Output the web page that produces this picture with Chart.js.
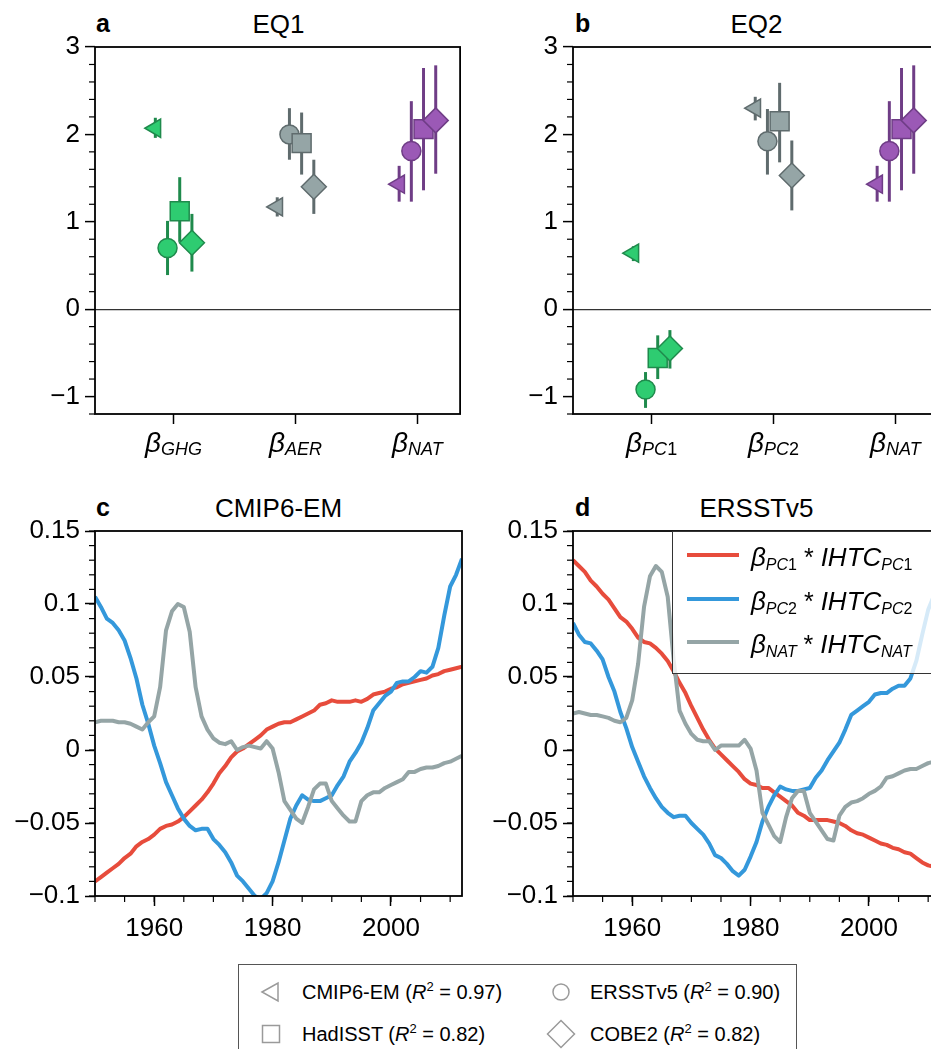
<!DOCTYPE html>
<html lang="en">
<head>
<meta charset="utf-8">
<title>EQ1 / EQ2</title>
<script src="https://cdn.jsdelivr.net/npm/chart.js@4.4.1/dist/chart.umd.min.js"></script>
<style>
    html, body { margin: 0; padding: 0; background: #fff; }
    body { position: relative; width: 931px; height: 1049px; overflow: hidden; font-family: "Liberation Sans", Arial, Helvetica, sans-serif; color: #000; }
    .panel { position: absolute; width: 475px; height: 480px; }
    .letra { position: absolute; font-size: 25px; line-height: 25px; font-weight: bold; }
    .titulo { position: absolute; font-size: 26px; line-height: 26px; white-space: nowrap; transform: translateX(-50%); }
    .beta { position: absolute; font-size: 28px; line-height: 28px; font-style: italic; white-space: nowrap; transform: translateX(-50%); }
    .beta sub { font-size: 18px; vertical-align: baseline; position: relative; top: 3px; }
    .recto { font-style: normal; }
    #leyendaD { position: absolute; left: 672px; top: 531px; width: 300px; height: 143px; box-sizing: border-box; border: 1.5px solid #333; background: rgba(255, 255, 255, 0.8); }
    .muestra { position: absolute; left: 14px; width: 52px; height: 4px; }
    .textoD { position: absolute; left: 78px; font-size: 25px; line-height: 26px; white-space: nowrap; }
    .textoD i { font-size: 26px; }
    .textoD sub { font-size: 16px; font-style: italic; vertical-align: baseline; position: relative; top: 4px; }
    #leyenda { position: absolute; left: 238px; top: 964px; width: 559px; height: 120px; box-sizing: border-box; border: 1.5px solid #555; background: #fff; }
    .simbolo { position: absolute; width: 30px; height: 30px; }
    .textoLeyenda { position: absolute; font-size: 20px; line-height: 20px; white-space: nowrap; }
    .textoLeyenda sup { font-size: 13px; vertical-align: baseline; position: relative; top: -8px; }
</style>
</head>
<body>
<div class="letra" style="left:96px; top:11px;">a</div>
<div class="titulo" style="left:278.5px; top:11px;">EQ1</div>
<div class="letra" style="left:575px; top:11px;">b</div>
<div class="titulo" style="left:756.5px; top:11px;">EQ2</div>
<div class="letra" style="left:96px; top:495px;">c</div>
<div class="titulo" style="left:278.5px; top:495px;">CMIP6-EM</div>
<div class="letra" style="left:575px; top:495px;">d</div>
<div class="titulo" style="left:756.5px; top:495px;">ERSSTv5</div>

<div class="panel" id="panelA" style="left:0px; top:0px;"><canvas id="graficoA"></canvas></div>
<div class="panel" id="panelB" style="left:478px; top:0px;"><canvas id="graficoB"></canvas></div>
<div class="panel" id="panelC" style="left:0px; top:484px;"><canvas id="graficoC"></canvas></div>
<div class="panel" id="panelD" style="left:478px; top:484px;"><canvas id="graficoD"></canvas></div>

<div id="leyendaD"></div>
<div id="leyenda"></div>

<script>
//DATOS
const gruposEq1 = ["GHG", "AER", "NAT"];
const gruposEq2 = ["PC1", "PC2", "NAT"];
const productos = ["CMIP6-EM", "ERSSTv5", "HadISST", "COBE2"];
const r2Productos = ["0.97", "0.90", "0.82", "0.82"];

// filas: CMIP6-EM, ERSSTv5, HadISST, COBE2 / columnas: grupos
const eq1Medio = [[2.07, 1.17, 1.43], [0.70, 2.00, 1.81], [1.12, 1.90, 2.06], [0.76, 1.40, 2.16]];
const eq1Bajo = [[1.96, 1.06, 1.23], [0.39, 1.71, 1.23], [0.77, 1.54, 1.36], [0.43, 1.09, 1.55]];
const eq1Alto = [[2.19, 1.28, 1.64], [1.01, 2.30, 2.38], [1.51, 2.25, 2.76], [1.09, 1.71, 2.79]];

const eq2Medio = [[0.64, 2.30, 1.43], [-0.92, 1.92, 1.81], [-0.56, 2.15, 2.06], [-0.45, 1.53, 2.16]];
const eq2Bajo = [[0.55, 2.16, 1.23], [-1.13, 1.54, 1.23], [-0.80, 1.68, 1.36], [-0.68, 1.13, 1.55]];
const eq2Alto = [[0.72, 2.43, 1.64], [-0.72, 2.29, 2.38], [-0.30, 2.59, 2.76], [-0.24, 1.93, 2.79]];

const anios = [1950, 1951, 1952, 1953, 1954, 1955, 1956, 1957, 1958, 1959,
    1960, 1961, 1962, 1963, 1964, 1965, 1966, 1967, 1968, 1969,
    1970, 1971, 1972, 1973, 1974, 1975, 1976, 1977, 1978, 1979,
    1980, 1981, 1982, 1983, 1984, 1985, 1986, 1987, 1988, 1989,
    1990, 1991, 1992, 1993, 1994, 1995, 1996, 1997, 1998, 1999,
    2000, 2001, 2002, 2003, 2004, 2005, 2006, 2007, 2008, 2009,
    2010, 2011, 2012];

const cmipPc1 = [-0.090, -0.087, -0.084, -0.081, -0.078, -0.074, -0.071, -0.066, -0.063, -0.061,
    -0.058, -0.054, -0.052, -0.051, -0.049, -0.046, -0.042, -0.038, -0.034, -0.029,
    -0.023, -0.016, -0.011, -0.005, -0.001, 0.001, 0.004, 0.007, 0.010, 0.014,
    0.016, 0.018, 0.019, 0.019, 0.021, 0.023, 0.025, 0.027, 0.031, 0.032,
    0.034, 0.033, 0.033, 0.033, 0.034, 0.033, 0.035, 0.038, 0.039, 0.040,
    0.042, 0.043, 0.045, 0.046, 0.047, 0.048, 0.049, 0.051, 0.052, 0.054,
    0.055, 0.056, 0.057];
const cmipPc2 = [0.105, 0.098, 0.090, 0.087, 0.082, 0.075, 0.063, 0.049, 0.031, 0.018,
    0.003, -0.009, -0.022, -0.031, -0.040, -0.047, -0.052, -0.055, -0.054, -0.054,
    -0.061, -0.065, -0.070, -0.077, -0.086, -0.090, -0.095, -0.100, -0.102, -0.098,
    -0.090, -0.077, -0.062, -0.047, -0.038, -0.031, -0.034, -0.035, -0.035, -0.033,
    -0.031, -0.024, -0.018, -0.008, -0.002, 0.005, 0.015, 0.027, 0.032, 0.037,
    0.040, 0.046, 0.047, 0.047, 0.050, 0.054, 0.053, 0.057, 0.070, 0.092,
    0.112, 0.120, 0.131];
const cmipNat = [0.019, 0.020, 0.020, 0.020, 0.019, 0.019, 0.018, 0.016, 0.014, 0.019,
    0.023, 0.043, 0.082, 0.095, 0.100, 0.098, 0.081, 0.043, 0.023, 0.014,
    0.008, 0.005, 0.004, 0.006, 0.000, 0.002, 0.003, 0.002, 0.001, 0.006,
    0.001, -0.015, -0.035, -0.041, -0.047, -0.050, -0.039, -0.027, -0.023, -0.023,
    -0.035, -0.040, -0.045, -0.049, -0.049, -0.035, -0.031, -0.029, -0.029, -0.026,
    -0.024, -0.022, -0.020, -0.015, -0.015, -0.013, -0.012, -0.012, -0.011, -0.009,
    -0.008, -0.006, -0.004];

const ersstPc1 = [0.130, 0.126, 0.122, 0.116, 0.112, 0.107, 0.103, 0.097, 0.091, 0.088,
    0.083, 0.077, 0.074, 0.073, 0.070, 0.066, 0.061, 0.054, 0.046, 0.039,
    0.030, 0.022, 0.014, 0.007, 0.001, -0.003, -0.007, -0.011, -0.015, -0.020,
    -0.023, -0.024, -0.026, -0.026, -0.029, -0.032, -0.035, -0.038, -0.043, -0.045,
    -0.048, -0.048, -0.048, -0.048, -0.049, -0.050, -0.052, -0.055, -0.057, -0.058,
    -0.060, -0.062, -0.064, -0.065, -0.067, -0.068, -0.070, -0.071, -0.074, -0.077,
    -0.079, -0.080, -0.081];
const ersstPc2 = [0.087, 0.079, 0.074, 0.073, 0.068, 0.062, 0.050, 0.040, 0.026, 0.015,
    0.002, -0.008, -0.018, -0.026, -0.033, -0.039, -0.043, -0.046, -0.045, -0.045,
    -0.050, -0.054, -0.058, -0.064, -0.072, -0.074, -0.078, -0.083, -0.086, -0.082,
    -0.073, -0.063, -0.049, -0.039, -0.031, -0.025, -0.027, -0.028, -0.028, -0.027,
    -0.026, -0.019, -0.014, -0.007, -0.001, 0.005, 0.014, 0.024, 0.027, 0.030,
    0.033, 0.038, 0.039, 0.039, 0.042, 0.044, 0.044, 0.049, 0.061, 0.079,
    0.096, 0.106, 0.115];
const ersstNat = [0.025, 0.026, 0.025, 0.024, 0.024, 0.023, 0.022, 0.020, 0.019, 0.022,
    0.034, 0.059, 0.098, 0.119, 0.126, 0.122, 0.105, 0.062, 0.027, 0.018,
    0.011, 0.007, 0.006, 0.006, 0.000, 0.003, 0.003, 0.003, 0.003, 0.007,
    0.001, -0.014, -0.043, -0.051, -0.059, -0.063, -0.046, -0.033, -0.028, -0.028,
    -0.043, -0.049, -0.055, -0.061, -0.062, -0.045, -0.039, -0.036, -0.035, -0.033,
    -0.030, -0.028, -0.025, -0.019, -0.018, -0.016, -0.014, -0.013, -0.013, -0.011,
    -0.009, -0.008, -0.007];

const ticksBeta = [-1, 0, 1, 2, 3];
const ticksIhtc = [-0.1, -0.05, 0, 0.05, 0.1, 0.15];
const ticksAnios = [1960, 1980, 2000];
const seriesIhtc = ["PC1", "PC2", "NAT"];

//ESTILOS
const fuente = '"Liberation Sans", Arial, Helvetica, sans-serif';
Chart.defaults.font.family = fuente;
Chart.defaults.color = "#000";

const rellenoGrupo = ["#2ecc71", "#95a5a6", "#9b59b6"];
const bordeGrupo = ["#1f8a4c", "#5f6b6d", "#6f3d86"];
const coloresIhtc = ["#e74c3c", "#3498db", "#95a5a6"];
const formaProducto = [
    { estilo: "triangle", giro: -90, radio: 10.5 },
    { estilo: "circle", giro: 0, radio: 9.5 },
    { estilo: "rect", giro: 0, radio: 13.4 },
    { estilo: "rectRot", giro: 0, radio: 12.5 }
];
const desplazamiento = [-0.15, -0.05, 0.05, 0.15];

function rango(desde, hasta, paso) {
    let valores = [];
    for (let v = desde; v <= hasta + paso / 2; v += paso) {
        valores.push(Math.round(v * 1000) / 1000);
    }
    return valores;
}

function formatear(v) {
    return String(Math.round(v * 1000) / 1000).replace("-", "\u2212");
}

function marcarDigitos(texto) {
    return texto.replace(/(\d)/g, '<span class="recto">$1</span>');
}

// marco completo y marcas menores sobre las escalas
const pluginMarco = {
    id: "marco",
    afterDraw(chart, args, opciones) {
        const ctx = chart.ctx;
        const area = chart.chartArea;
        ctx.save();
        ctx.strokeStyle = "#000";
        ctx.lineWidth = 1.2;
        for (let v of opciones.menoresY || []) {
            let py = chart.scales.y.getPixelForValue(v);
            ctx.beginPath();
            ctx.moveTo(area.left, py);
            ctx.lineTo(area.left - 6, py);
            ctx.stroke();
        }
        for (let v of opciones.menoresX || []) {
            let px = chart.scales.x.getPixelForValue(v);
            ctx.beginPath();
            ctx.moveTo(px, area.bottom);
            ctx.lineTo(px, area.bottom + 6);
            ctx.stroke();
        }
        ctx.lineWidth = 1.8;
        ctx.strokeRect(area.left, area.top, area.right - area.left, area.bottom - area.top);
        ctx.restore();
    }
};

function opcionesBase(arriba, altoEjeX) {
    return {
        responsive: true,
        maintainAspectRatio: false,
        animation: false,
        events: [],
        layout: { padding: { top: arriba, right: 13, left: 0, bottom: 0 } },
        plugins: { legend: { display: false }, tooltip: { enabled: false } },
        scales: {
            x: {
                type: "linear",
                afterFit: (escala) => { escala.height = altoEjeX; },
                border: { display: false },
                grid: { drawOnChartArea: false, tickLength: 10, tickColor: "#000", tickWidth: 1.5 },
                ticks: { autoSkip: false, maxRotation: 0, font: { size: 26 }, padding: 7 }
            },
            y: {
                type: "linear",
                afterFit: (escala) => { escala.width = 95; },
                border: { display: false },
                grid: { drawOnChartArea: false, tickLength: 10, tickColor: "#000", tickWidth: 1.5 },
                ticks: { autoSkip: false, font: { size: 26 }, padding: 5, callback: (v) => formatear(v) }
            }
        }
    };
}

//GRAFICOS BETA
function crearGraficoBeta(idCanvas, idPanel, grupos, medio, bajo, alto) {
    let datasets = [];
    let orden = 100;
    for (let p = 0; p < productos.length; p++) {
        for (let g = 0; g < grupos.length; g++) {
            let x = g + 1 + desplazamiento[p];
            datasets.push({
                data: [{ x: x, y: bajo[p][g] }, { x: x, y: alto[p][g] }],
                showLine: true,
                borderColor: bordeGrupo[g],
                borderWidth: 3,
                pointRadius: 0,
                order: orden--
            });
        }
        datasets.push({
            data: medio[p].map((v, g) => ({ x: g + 1 + desplazamiento[p], y: v })),
            backgroundColor: rellenoGrupo,
            pointBackgroundColor: rellenoGrupo,
            borderColor: bordeGrupo,
            pointBorderColor: bordeGrupo,
            pointBorderWidth: 1.5,
            pointStyle: formaProducto[p].estilo,
            pointRotation: formaProducto[p].giro,
            pointRadius: formaProducto[p].radio,
            order: orden--
        });
    }

    let opciones = opcionesBase(47, 66);
    opciones.plugins.marco = { menoresY: rango(-1.2, 3, 0.2).filter((v) => !Number.isInteger(v)) };
    opciones.scales.x.min = 0.355;
    opciones.scales.x.max = 3.35;
    opciones.scales.x.afterBuildTicks = (escala) => { escala.ticks = [1, 2, 3].map((v) => ({ value: v })); };
    opciones.scales.x.ticks.callback = () => "";
    opciones.scales.y.min = -1.2;
    opciones.scales.y.max = 3;
    opciones.scales.y.afterBuildTicks = (escala) => { escala.ticks = ticksBeta.map((v) => ({ value: v })); };
    opciones.scales.y.grid.drawOnChartArea = true;
    opciones.scales.y.grid.lineWidth = 1.2;
    opciones.scales.y.grid.color = (c) => (c.tick && c.tick.value === 0) ? "#333" : "rgba(0,0,0,0)";

    const grafico = new Chart(document.getElementById(idCanvas), {
        type: "scatter",
        data: { datasets: datasets },
        options: opciones,
        plugins: [pluginMarco]
    });

    const panel = document.getElementById(idPanel);
    grupos.forEach((g, i) => {
        let etiqueta = document.createElement("div");
        etiqueta.className = "beta";
        etiqueta.innerHTML = `β<sub>${marcarDigitos(g)}</sub>`;
        etiqueta.style.left = (panel.offsetLeft + grafico.scales.x.getPixelForValue(i + 1)) + "px";
        etiqueta.style.top = "429px";
        document.body.append(etiqueta);
    });
    return grafico;
}

//GRAFICOS IHTC
function crearGraficoIhtc(idCanvas, pc1, pc2, nat) {
    const series = [pc1, pc2, nat];
    const datasets = series.map((valores, i) => ({
        data: anios.map((a, k) => ({ x: a, y: valores[k] })),
        borderColor: coloresIhtc[i],
        borderWidth: 4,
        borderJoinStyle: "round",
        pointRadius: 0,
        tension: 0,
        clip: 0,
        order: series.length - i
    }));

    let opciones = opcionesBase(47, 68);
    opciones.plugins.marco = { menoresY: rango(-0.1, 0.15, 0.01), menoresX: rango(1950, 2010, 5) };
    opciones.scales.x.min = 1950;
    opciones.scales.x.max = 2012;
    opciones.scales.x.afterBuildTicks = (escala) => { escala.ticks = ticksAnios.map((v) => ({ value: v })); };
    opciones.scales.x.ticks.callback = (v) => String(v);
    opciones.scales.y.min = -0.1;
    opciones.scales.y.max = 0.15;
    opciones.scales.y.afterBuildTicks = (escala) => { escala.ticks = ticksIhtc.map((v) => ({ value: v })); };

    return new Chart(document.getElementById(idCanvas), {
        type: "line",
        data: { datasets: datasets },
        options: opciones,
        plugins: [pluginMarco]
    });
}

//LEYENDAS
function crearLeyendaD() {
    const caja = document.getElementById("leyendaD");
    seriesIhtc.forEach((s, i) => {
        let centro = 23 + i * 43.5;
        let muestra = document.createElement("div");
        muestra.className = "muestra";
        muestra.style.background = coloresIhtc[i];
        muestra.style.top = (centro - 2) + "px";
        caja.append(muestra);

        let texto = document.createElement("div");
        texto.className = "textoD";
        texto.style.top = (centro - 11) + "px";
        texto.innerHTML = `<i>β</i><sub>${marcarDigitos(s)}</sub> * <i>IHTC</i><sub>${marcarDigitos(s)}</sub>`;
        caja.append(texto);
    });
}

function crearLeyenda() {
    const caja = document.getElementById("leyenda");
    const simbolos = [
        '<polygon points="6,15 22,6 22,24" />',
        '<circle cx="15" cy="15" r="8" />',
        '<rect x="6.5" y="6.5" width="17" height="17" />',
        '<polygon points="15,1.5 28.5,15 15,28.5 1.5,15" />'
    ];
    productos.forEach((p, i) => {
        let columna = i === 0 || i === 2 ? 0 : 1;
        let fila = i < 2 ? 0 : 1;
        let xSimbolo = columna === 0 ? 32 : 322;
        let ySimbolo = fila === 0 ? 27 : 69;

        let simbolo = document.createElement("div");
        simbolo.className = "simbolo";
        simbolo.style.left = (xSimbolo - 15) + "px";
        simbolo.style.top = (ySimbolo - 15) + "px";
        simbolo.innerHTML = `<svg width="30" height="30" fill="none" stroke="#9a9a9a" stroke-width="1.5">${simbolos[i]}</svg>`;
        caja.append(simbolo);

        let texto = document.createElement("div");
        texto.className = "textoLeyenda";
        texto.style.left = (columna === 0 ? 63 : 351) + "px";
        texto.style.top = (fila === 0 ? 17 : 59) + "px";
        texto.innerHTML = `${p} (<i>R</i><sup>2</sup> = ${r2Productos[i]})`;
        caja.append(texto);
    });
}

//EJECUCION
crearGraficoBeta("graficoA", "panelA", gruposEq1, eq1Medio, eq1Bajo, eq1Alto);
crearGraficoBeta("graficoB", "panelB", gruposEq2, eq2Medio, eq2Bajo, eq2Alto);
crearGraficoIhtc("graficoC", cmipPc1, cmipPc2, cmipNat);
crearGraficoIhtc("graficoD", ersstPc1, ersstPc2, ersstNat);
crearLeyendaD();
crearLeyenda();
</script>
</body>
</html>
